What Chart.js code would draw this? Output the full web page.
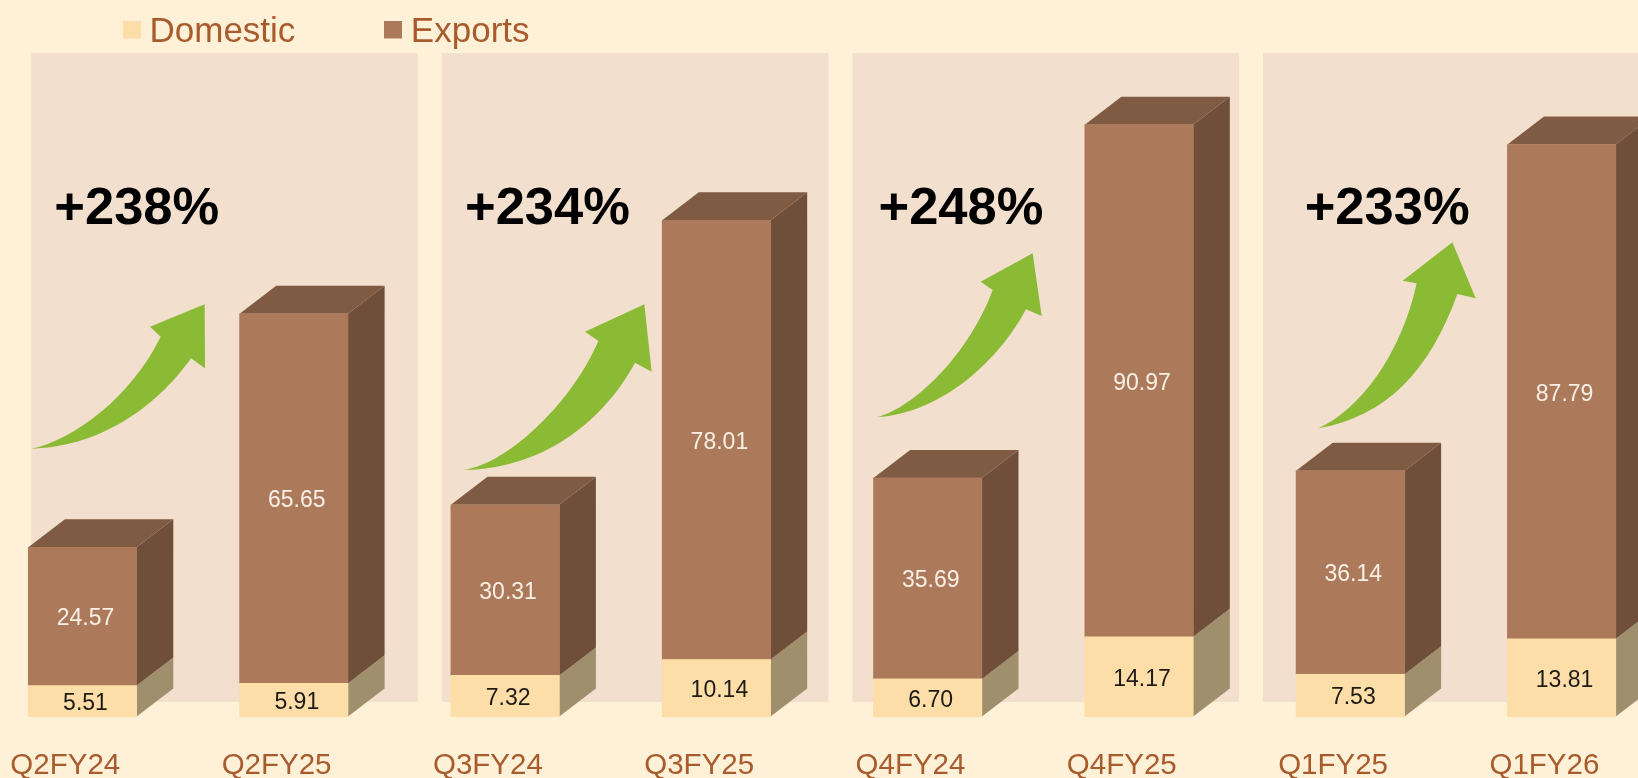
<!DOCTYPE html>
<html>
<head>
<meta charset="utf-8">
<title>Domestic and Exports</title>
<style>
html,body{margin:0;padding:0;background:#FFF0D8;overflow:hidden}
canvas{display:block}
</style>
<script src="https://cdn.jsdelivr.net/npm/chart.js@4"></script>
</head>
<body>
<canvas id="c" width="1638" height="778"></canvas>
<script>
const categories = ['Q2FY24','Q2FY25','Q3FY24','Q3FY25','Q4FY24','Q4FY25','Q1FY25','Q1FY26'];
const domestic = [5.51,5.91,7.32,10.14,6.70,14.17,7.53,13.81];
const exportsSeries = [24.57,65.65,30.31,78.01,35.69,90.97,36.14,87.79];
const growthLabels = ['+238%','+234%','+248%','+233%'];

const FONT = '"Liberation Sans", Arial, sans-serif';
const BG = '#FFF0D8', PANEL = '#F2DFCD', GREEN = '#8BBA35', TEXT_BROWN = '#A85B2C';
const DOM_FRONT = '#FDDDA8', DOM_SIDE = '#9F8F6C';
const EXP_FRONT = '#AC7A5A', EXP_SIDE = '#6F4F3A', EXP_TOP = '#805B43';
const DEPTH_X = 36.6, DEPTH_Y = 28;
const PLOT_LEFT = 82.5, PLOT_RIGHT = 1561.6;

// Decorative growth arrows, in thirds of a pixel from an origin:
// tail, upper c1, upper c2, notch, barb, tip, lower, notch2, lower c1, lower c2
const ARROWS = [
  {o:[20,290],p:[[35,476],[160,450],[335,320],[422,140],[390,110],[554,43],[555,235],[513,205],[425,330],[260,470]]},
  {o:[450,280],p:[[40,570],[180,550],[370,360],[445,183],[405,155],[583,73],[605,275],[555,248],[470,405],[300,565]]},
  {o:[860,230],p:[[50,562],[170,530],[330,365],[398,180],[362,155],[518,70],[545,258],[498,238],[420,385],[250,550]]},
  {o:[1250,40],p:[[205,1165],[330,1110],[455,940],[500,730],[458,722],[607,607],[677,775],[622,762],[540,990],[410,1130]]}
];
const GROWTH_X = [54.3,465,878.5,1304.7];
const GROWTH_Y = 224;
const PANEL_X = [31.3,441.9,852.4,1263], PANEL_W = 386.5;

function swatch(color){
  const s = document.createElement('canvas');
  s.width = 18; s.height = 24;
  const g = s.getContext('2d');
  g.fillStyle = color; g.fillRect(0,0,18,18);
  return s;
}
const swatches = [swatch(DOM_FRONT), swatch(EXP_FRONT)];
const LEGEND_PAD = 97;

const decor = {
  id:'decor',
  afterLayout(chart){
    const l = chart.legend;
    l.left = 131 - LEGEND_PAD; l.right = 1638;
    l.top = 15 - LEGEND_PAD; l.bottom = 60;
    const xs = chart.scales.x;
    xs.left = PLOT_LEFT; xs.right = PLOT_RIGHT; xs.width = PLOT_RIGHT - PLOT_LEFT;
    xs.configure();
  },
  beforeDraw(chart){
    const {ctx,width,height} = chart;
    ctx.save(); ctx.fillStyle = BG; ctx.fillRect(0,0,width,height); ctx.restore();
  },
  beforeDatasetsDraw(chart){
    const {ctx} = chart, ys = chart.scales.y;
    const top = ys.getPixelForValue(117.85), bottom = ys.getPixelForValue(2.6);
    ctx.save();
    ctx.fillStyle = PANEL;
    PANEL_X.forEach(l=>ctx.fillRect(l,top,PANEL_W,bottom-top));
    chart.data.datasets.forEach((ds,d)=>{
      chart.getDatasetMeta(d).data.forEach(el=>{
        const R = el.x+el.width/2, L = el.x-el.width/2;
        ctx.fillStyle = d===0 ? DOM_SIDE : EXP_SIDE;
        ctx.beginPath();
        ctx.moveTo(R,el.base); ctx.lineTo(R+DEPTH_X,el.base-DEPTH_Y);
        ctx.lineTo(R+DEPTH_X,el.y-DEPTH_Y); ctx.lineTo(R,el.y); ctx.closePath(); ctx.fill();
        if(d===1){
          ctx.fillStyle = EXP_TOP;
          ctx.beginPath();
          ctx.moveTo(L,el.y); ctx.lineTo(R,el.y);
          ctx.lineTo(R+DEPTH_X,el.y-DEPTH_Y); ctx.lineTo(L+DEPTH_X,el.y-DEPTH_Y); ctx.closePath(); ctx.fill();
        }
      });
    });
    ctx.restore();
  },
  afterDatasetsDraw(chart){
    const {ctx} = chart;
    ctx.save();
    ctx.textAlign = 'center'; ctx.textBaseline = 'middle';
    ctx.font = '23px '+FONT;
    chart.data.datasets.forEach((ds,d)=>{
      ctx.fillStyle = d===0 ? '#1E1A14' : '#F8F0E6';
      chart.getDatasetMeta(d).data.forEach((el,i)=>{
        ctx.fillText(ds.data[i].toFixed(2), el.x+3, (el.y+el.base)/2+2.5);
      });
    });
    ctx.fillStyle = GREEN;
    ARROWS.forEach(({o,p})=>{
      const a = p.map(q=>[q[0]/3+o[0],q[1]/3+o[1]]);
      ctx.beginPath();
      ctx.moveTo(a[0][0],a[0][1]);
      ctx.bezierCurveTo(a[1][0],a[1][1],a[2][0],a[2][1],a[3][0],a[3][1]);
      ctx.lineTo(a[4][0],a[4][1]); ctx.lineTo(a[5][0],a[5][1]);
      ctx.lineTo(a[6][0],a[6][1]); ctx.lineTo(a[7][0],a[7][1]);
      ctx.bezierCurveTo(a[8][0],a[8][1],a[9][0],a[9][1],a[0][0],a[0][1]);
      ctx.closePath(); ctx.fill();
    });
    ctx.fillStyle = '#000';
    ctx.textAlign = 'left'; ctx.textBaseline = 'alphabetic';
    ctx.font = 'bold 52.5px '+FONT;
    growthLabels.forEach((t,i)=>ctx.fillText(t,GROWTH_X[i],GROWTH_Y));
    ctx.restore();
  }
};

new Chart(document.getElementById('c').getContext('2d'),{
  type:'bar',
  data:{
    labels:categories,
    datasets:[
      {label:'Domestic',data:domestic,backgroundColor:DOM_FRONT,borderWidth:0,barThickness:108.4,clip:false},
      {label:'Exports',data:exportsSeries,backgroundColor:EXP_FRONT,borderWidth:0,barThickness:108.4,clip:false}
    ]
  },
  options:{
    responsive:false,
    animation:false,
    events:[],
    layout:{autoPadding:false,padding:{left:82.5,right:76.4,top:0,bottom:0}},
    plugins:{
      tooltip:{enabled:false},
      title:{display:false},
      legend:{
        display:true,position:'top',align:'start',maxHeight:41,
        labels:{
          usePointStyle:true,pointStyleWidth:1,padding:LEGEND_PAD,color:TEXT_BROWN,
          font:{family:FONT,size:35},
          generateLabels(chart){
            return Chart.defaults.plugins.legend.labels.generateLabels(chart)
              .map((it,i)=>Object.assign(it,{pointStyle:swatches[i]}));
          }
        }
      }
    },
    scales:{
      x:{
        type:'category',stacked:true,offset:false,
        grid:{display:false,drawTicks:false},border:{display:false},
        ticks:{color:TEXT_BROWN,font:{family:FONT,size:29.5},padding:32,labelOffset:-17.2,maxRotation:0,minRotation:0,autoSkip:false},
        afterFit(s){s.height=61.4;}
      },
      y:{
        display:false,stacked:true,min:0,max:120,
        grid:{display:false}
      }
    }
  },
  plugins:[decor]
});
</script>
</body>
</html>
